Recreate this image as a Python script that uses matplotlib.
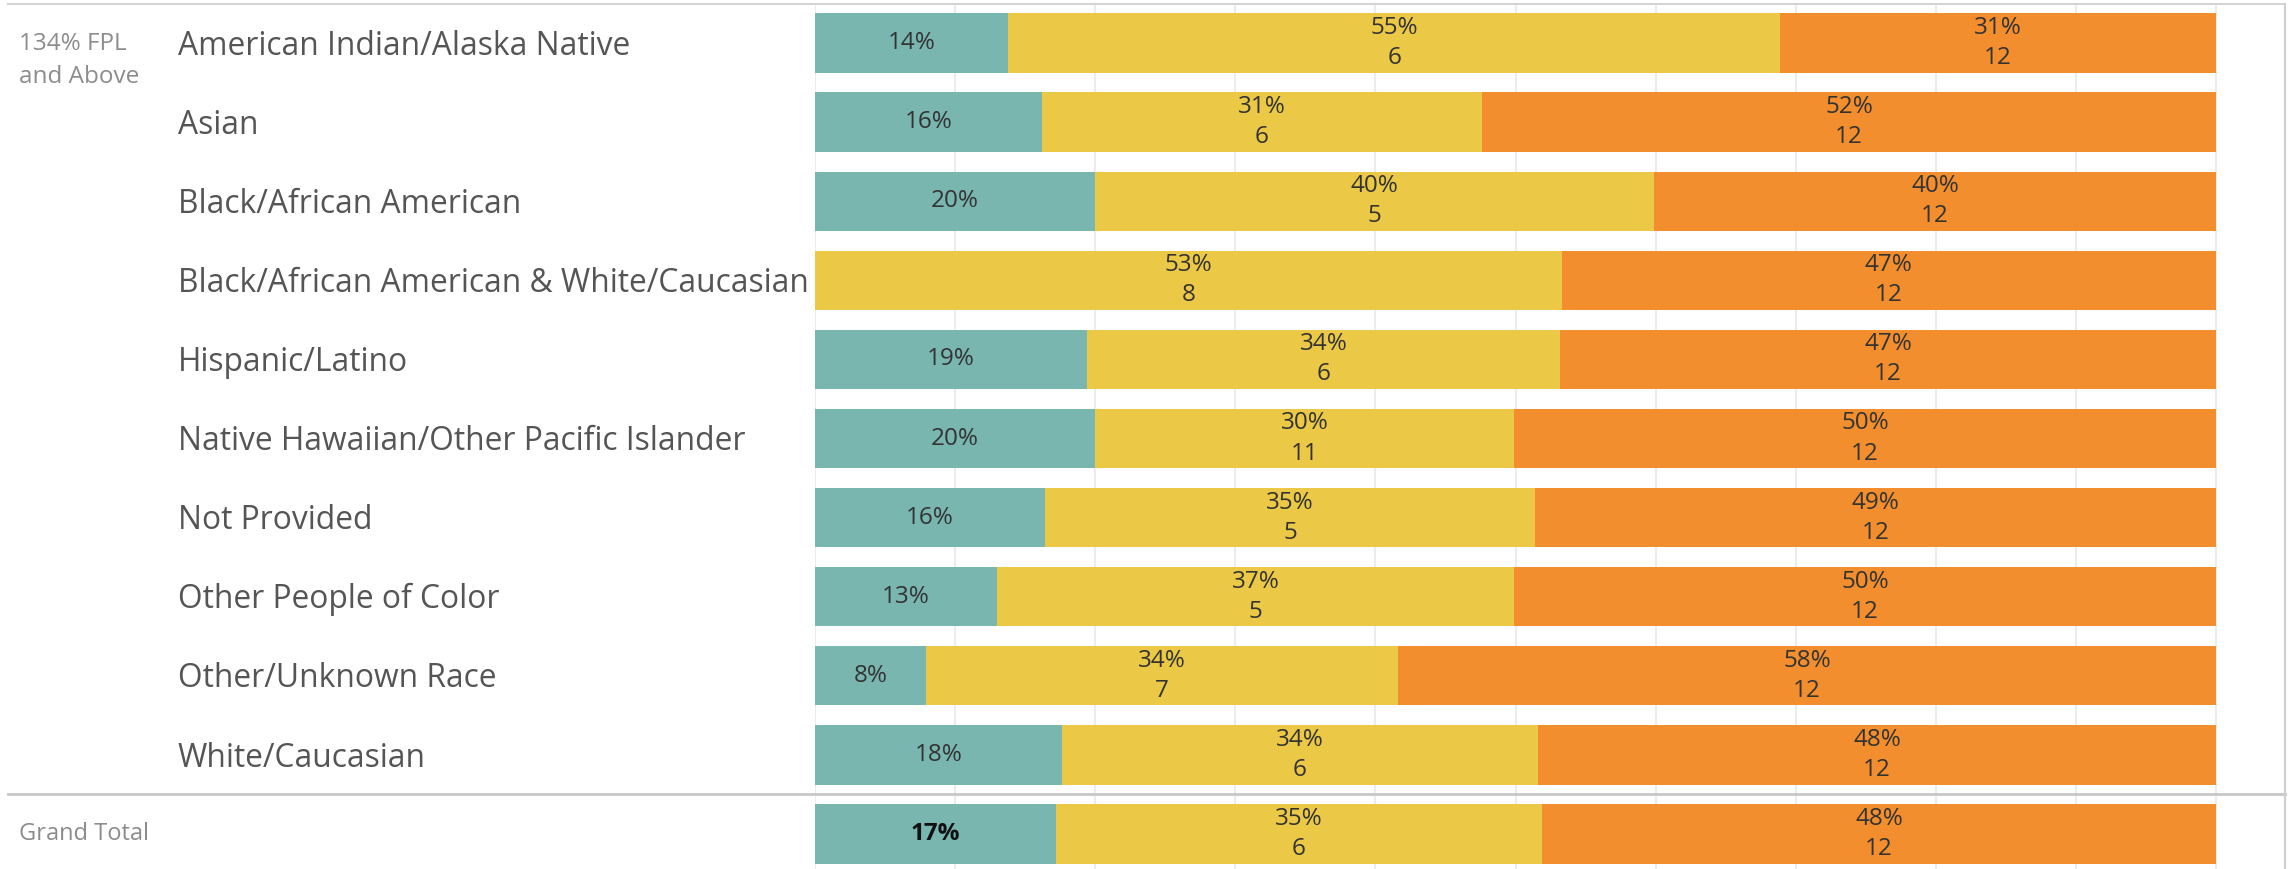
import numpy as np
import matplotlib.pyplot as plt
from matplotlib.lines import Line2D
from matplotlib.transforms import blended_transform_factory

plt.rcParams['font.family'] = ['Open Sans', 'DejaVu Sans']

# data (share of each row, in %)
races = [
    "American Indian/Alaska Native",
    "Asian",
    "Black/African American",
    "Black/African American & White/Caucasian",
    "Hispanic/Latino",
    "Native Hawaiian/Other Pacific Islander",
    "Not Provided",
    "Other People of Color",
    "Other/Unknown Race",
    "White/Caucasian",
    "Grand Total",
]
teal_pct = [13.8, 16.2, 20.0, 0.0, 19.4, 20.0, 16.4, 13.0, 7.9, 17.6, 17.2]
yellow_pct = [55.1, 31.4, 39.9, 53.3, 33.8, 29.9, 35.0, 36.9, 33.7, 34.0, 34.7]
orange_pct = [31.1, 52.4, 40.1, 46.7, 46.8, 50.1, 48.6, 50.1, 58.4, 48.4, 48.1]
yellow_count = [6, 6, 5, 8, 6, 11, 5, 5, 7, 6, 6]
orange_count = [12, 12, 12, 12, 12, 12, 12, 12, 12, 12, 12]

TEAL, YELLOW, ORANGE = "#79b6b0", "#ebc946", "#f28e2d"
TXT = "#333333"

W, H = 2290, 869
fig = plt.figure(figsize=(W / 100, H / 100), dpi=100)

# bar panel: 0% at x=815px, 100% at x=2216px, panel ends at 2285px
x0, x100, xr = 815, 2216, 2285
pitch, first = 79.1, 43
ax = fig.add_axes([x0 / W, 0, (xr - x0) / W, (H - 4) / H])
ax.set_xlim(0, 100 * (xr - x0) / (x100 - x0))
n = len(races)
ax.set_ylim(n - 1 + (H - (first + (n - 1) * pitch)) / pitch, -(first - 4) / pitch)
ax.set_axis_off()

ax.vlines(np.arange(0, 101, 10), *ax.get_ylim(), color="#ececec", lw=1.5, zorder=0)

y = np.arange(n)
t = np.array(teal_pct)
yl = np.array(yellow_pct)
o = np.array(orange_pct)
bh = 0.75
ax.barh(y, t, height=bh, color=TEAL, zorder=2)
ax.barh(y, yl, left=t, height=bh, color=YELLOW, zorder=2)
ax.barh(y, o, left=t + yl, height=bh, color=ORANGE, zorder=2)

dy = 0.19
fs = 17.5
for i in range(n):
    last = i == n - 1
    if t[i] > 0:
        ax.text(t[i] / 2, i, f"{round(t[i])}%", ha="center", va="center",
                fontsize=fs, color="#111111" if last else TXT,
                fontweight="bold" if last else "normal", zorder=3)
    cx = t[i] + yl[i] / 2
    ax.text(cx, i - dy, f"{round(yl[i])}%", ha="center", va="center", fontsize=fs, color=TXT, zorder=3)
    ax.text(cx, i + dy, f"{yellow_count[i]}", ha="center", va="center", fontsize=fs, color=TXT, zorder=3)
    cx = t[i] + yl[i] + o[i] / 2
    ax.text(cx, i - dy, f"{round(o[i])}%", ha="center", va="center", fontsize=fs, color=TXT, zorder=3)
    ax.text(cx, i + dy, f"{orange_count[i]}", ha="center", va="center", fontsize=fs, color=TXT, zorder=3)

# row headers
tr = blended_transform_factory(fig.transFigure, ax.transData)
for i, r in enumerate(races[:-1]):
    ax.text(178 / W, i + 0.04, r, transform=tr, ha="left", va="center", fontsize=22.9, color="#555555")

fig.text(19 / W, 1 - 44 / H, "134% FPL", ha="left", va="center", fontsize=17.5, color="#8c8c8c")
fig.text(19 / W, 1 - 77 / H, "and Above", ha="left", va="center", fontsize=17.5, color="#8c8c8c")
ax.text(19 / W, n - 1, "Grand Total", transform=tr, ha="left", va="center", fontsize=17, color="#8c8c8c")

# frame lines
sep = first + (n - 1.5) * pitch
fig.add_artist(Line2D([8 / W, xr / W], [1 - 4 / H] * 2, color="#d4d4d4", lw=1.5))
fig.add_artist(Line2D([8 / W, xr / W], [1 - sep / H] * 2, color="#c8c8c8", lw=2))
fig.add_artist(Line2D([xr / W] * 2, [0, 1 - 4 / H], color="#cfcfcf", lw=1.5))

fig.savefig("out.png", dpi=100, facecolor="white")
